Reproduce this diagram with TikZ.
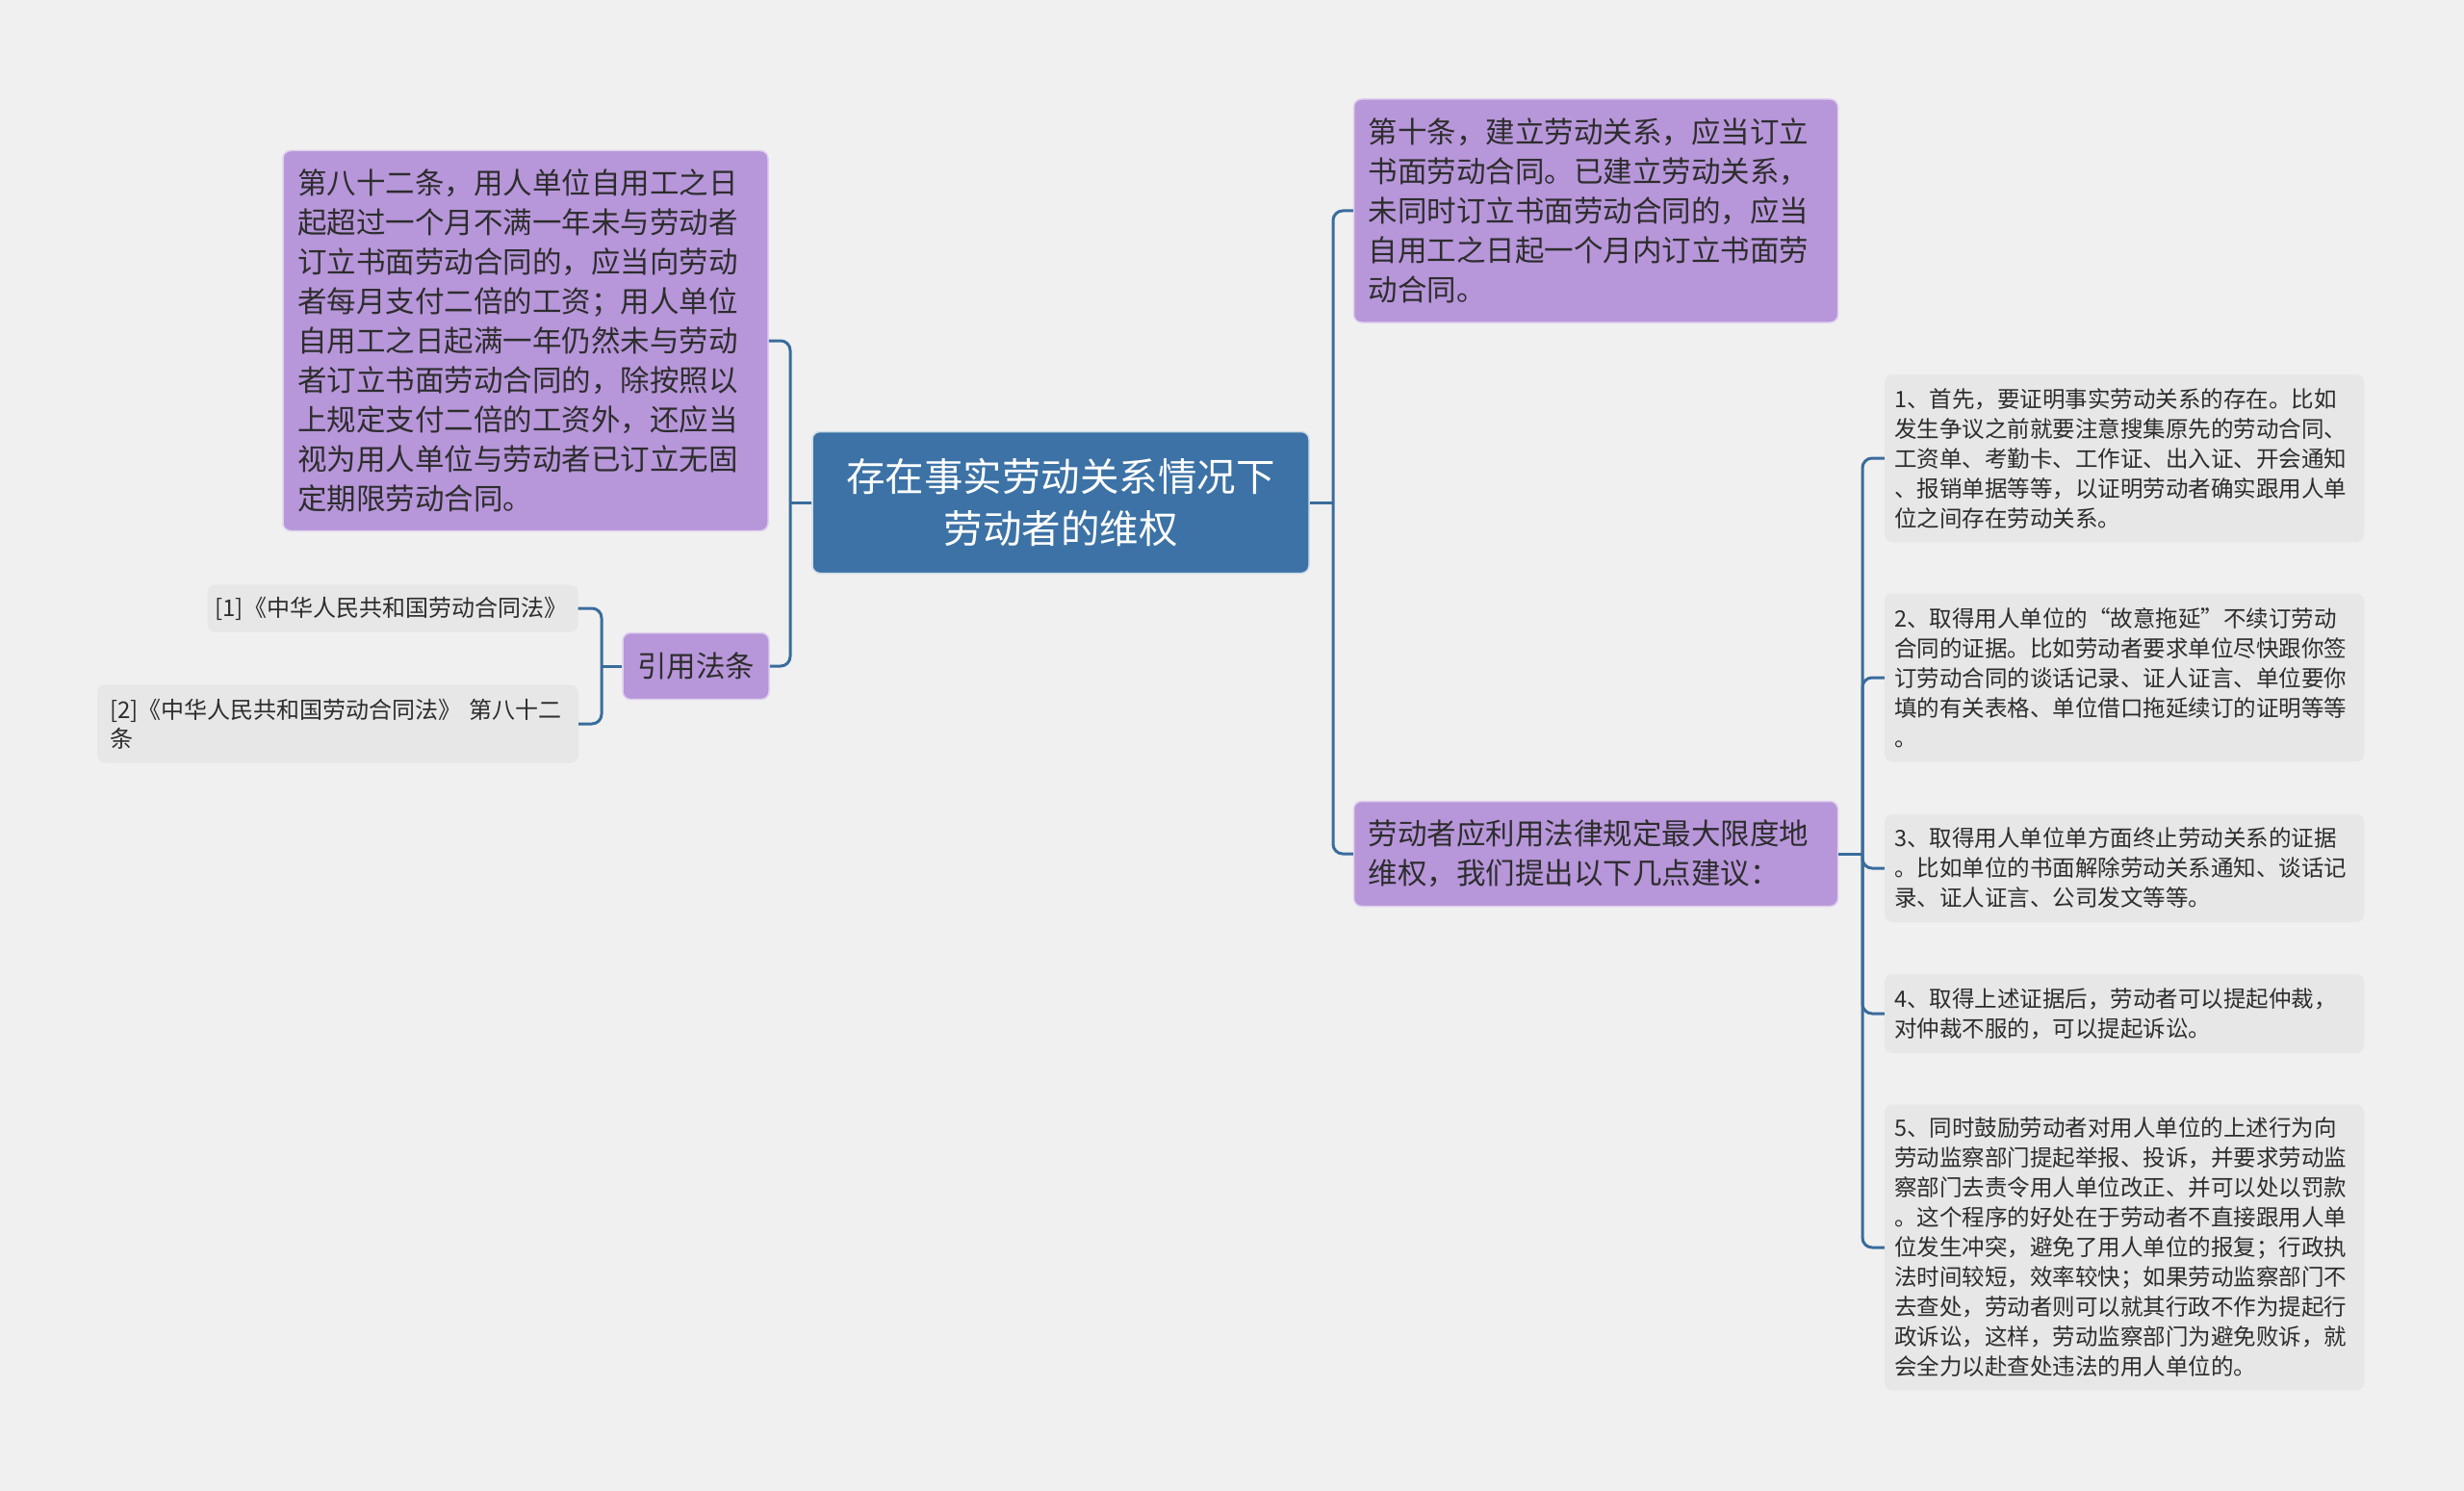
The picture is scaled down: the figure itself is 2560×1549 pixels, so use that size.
\documentclass[tikz,border=0pt]{standalone}
\usepackage{fontspec}
\setmainfont{Noto Sans CJK SC}
\usepackage{tikz}

\definecolor{bgcol}{RGB}{240,240,240}
\definecolor{rootblue}{RGB}{60,114,165}
\definecolor{topicpurple}{RGB}{183,150,218}
\definecolor{leafgray}{RGB}{231,231,231}
\definecolor{linkblue}{RGB}{58,108,156}
\definecolor{txtdark}{RGB}{45,45,45}

\begin{document}
\begin{tikzpicture}[x=1pt,y=-1pt,
    root/.style={fill=rootblue,draw=white!75!rootblue,line width=1.5pt,rounded corners=8pt,
        text=white,align=center,minimum width=516pt,minimum height=147pt,
        font=\fontsize{40.5pt}{54pt}\selectfont},
    topic/.style={fill=topicpurple,draw=white!55!topicpurple,line width=1.5pt,rounded corners=8pt,
        text=txtdark,align=left,inner xsep=15pt,inner ysep=0pt,
        font=\fontsize{30.5pt}{41pt}\selectfont},
    leaf/.style={fill=leafgray,rounded corners=8pt,text=txtdark,align=left,
        inner xsep=10pt,inner ysep=0pt,text width=478pt,
        font=\fontsize{23.5pt}{31pt}\selectfont},
    cite/.style={leaf,font=\fontsize{24pt}{30pt}\selectfont},
    link/.style={draw=linkblue,line width=3pt,rounded corners=10pt}]

% Background
\fill[bgcol] (0,0) rectangle (2560,1549);
\useasboundingbox (0,0) rectangle (2560,1549);

% Central topic
\node[root] (root) at (1102,522) {存在事实劳动关系情况下\\劳动者的维权};

% Left branch
\node[topic,text width=474pt,minimum height=395pt] (law82) at (546,354) {第八十二条，用人单位自用工之日\\起超过一个月不满一年未与劳动者\\订立书面劳动合同的，应当向劳动\\者每月支付二倍的工资；用人单位\\自用工之日起满一年仍然未与劳动\\者订立书面劳动合同的，除按照以\\上规定支付二倍的工资外，还应当\\视为用人单位与劳动者已订立无固\\定期限劳动合同。};
\node[topic,minimum width=150pt,minimum height=69pt] (cite) at (723,692) {引用法条};
\node[cite,text width=369pt,inner xsep=8pt,minimum height=49pt] (ref1) at (408,632) {[1]《中华人民共和国劳动合同法》};
\node[cite,text width=474pt,inner xsep=13pt,minimum height=81pt] (ref2) at (351,752) {[2]《中华人民共和国劳动合同法》 第八十二\\条};

\coordinate (lf) at (821,522);
\coordinate (cf) at (625,692);
\draw[link] (root.west) -- (lf);
\draw[link] (lf) |- (law82.east);
\draw[link] (lf) |- (cite.east);
\draw[link] (cite.west) -- (cf);
\draw[link] (cf) |- (ref1.east);
\draw[link] (cf) |- (ref2.east);

% Right branch
\node[topic,text width=473pt,minimum height=232pt] (art10) at (1658,219) {第十条，建立劳动关系，应当订立\\书面劳动合同。已建立劳动关系，\\未同时订立书面劳动合同的，应当\\自用工之日起一个月内订立书面劳\\动合同。};
\node[topic,text width=473pt,minimum height=109pt] (advice) at (1658,887) {劳动者应利用法律规定最大限度地\\维权，我们提出以下几点建议：};

\coordinate (rf) at (1385,522);
\coordinate (af) at (1935,887);
\draw[link] (root.east) -- (rf);
\draw[link] (rf) |- (art10.west);
\draw[link] (rf) |- (advice.west);
\draw[link] (advice.east) -- (af);

% Suggestions
\foreach \i/\y/\h/\txt in {
    1/476/174/{1、首先，要证明事实劳动关系的存在。比如\\发生争议之前就要注意搜集原先的劳动合同、\\工资单、考勤卡、工作证、出入证、开会通知\\、报销单据等等，以证明劳动者确实跟用人单\\位之间存在劳动关系。},
    2/704/175/{2、取得用人单位的“故意拖延”不续订劳动\\合同的证据。比如劳动者要求单位尽快跟你签\\订劳动合同的谈话记录、证人证言、单位要你\\填的有关表格、单位借口拖延续订的证明等等\\。},
    3/902/112/{3、取得用人单位单方面终止劳动关系的证据\\。比如单位的书面解除劳动关系通知、谈话记\\录、证人证言、公司发文等等。},
    4/1053/82/{4、取得上述证据后，劳动者可以提起仲裁，\\对仲裁不服的，可以提起诉讼。},
    5/1296/297/{5、同时鼓励劳动者对用人单位的上述行为向\\劳动监察部门提起举报、投诉，并要求劳动监\\察部门去责令用人单位改正、并可以处以罚款\\。这个程序的好处在于劳动者不直接跟用人单\\位发生冲突，避免了用人单位的报复；行政执\\法时间较短，效率较快；如果劳动监察部门不\\去查处，劳动者则可以就其行政不作为提起行\\政诉讼，这样，劳动监察部门为避免败诉，就\\会全力以赴查处违法的用人单位的。}}
{
    \node[leaf,minimum height=\h pt] (item\i) at (2207,\y) {\txt};
    \draw[link] (af) |- (item\i.west);
}
\end{tikzpicture}
\end{document}
